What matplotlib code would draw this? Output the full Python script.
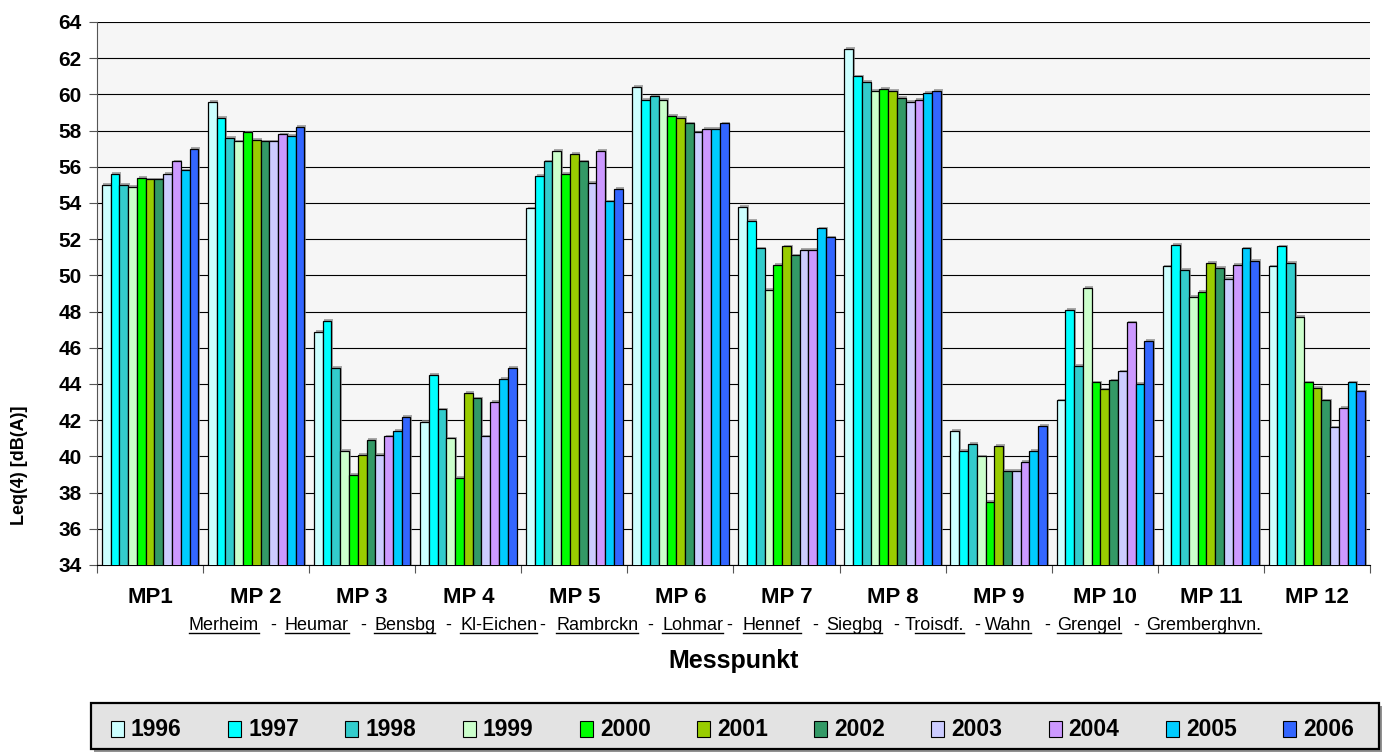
import matplotlib
matplotlib.use("Agg")
import matplotlib.pyplot as plt
import matplotlib.patheffects as pe
from matplotlib.lines import Line2D
from matplotlib.patches import Rectangle
import numpy as np

plt.rcParams['font.family'] = ['Liberation Sans', 'DejaVu Sans']

categories = ["MP1", "MP 2", "MP 3", "MP 4", "MP 5", "MP 6", "MP 7", "MP 8", "MP 9", "MP 10", "MP 11", "MP 12"]
places = ["Merheim", "Heumar", "Bensbg", "Kl-Eichen", "Rambrckn", "Lohmar", "Hennef", "Siegbg", "Troisdf.", "Wahn", "Grengel", "Gremberghvn."]
years = ["1996", "1997", "1998", "1999", "2000", "2001", "2002", "2003", "2004", "2005", "2006"]

v1996 = [55.0, 59.6, 46.9, 41.9, 53.7, 60.4, 53.8, 62.5, 41.4, 43.1, 50.5, 50.5]
v1997 = [55.6, 58.7, 47.5, 44.5, 55.5, 59.7, 53.0, 61.0, 40.3, 48.1, 51.7, 51.6]
v1998 = [55.0, 57.6, 44.9, 42.6, 56.3, 59.9, 51.5, 60.7, 40.7, 45.0, 50.3, 50.7]
v1999 = [54.9, 57.4, 40.3, 41.0, 56.9, 59.7, 49.2, 60.2, 40.0, 49.3, 48.8, 47.7]
v2000 = [55.4, 57.9, 39.0, 38.8, 55.6, 58.8, 50.6, 60.3, 37.5, 44.1, 49.1, 44.1]
v2001 = [55.3, 57.5, 40.1, 43.5, 56.7, 58.7, 51.6, 60.2, 40.6, 43.7, 50.7, 43.8]
v2002 = [55.3, 57.4, 40.9, 43.2, 56.3, 58.4, 51.1, 59.8, 39.2, 44.2, 50.4, 43.1]
v2003 = [55.6, 57.4, 40.1, 41.1, 55.1, 57.9, 51.4, 59.6, 39.2, 44.7, 49.8, 41.6]
v2004 = [56.3, 57.8, 41.1, 43.0, 56.9, 58.1, 51.4, 59.7, 39.7, 47.4, 50.6, 42.7]
v2005 = [55.8, 57.7, 41.4, 44.3, 54.1, 58.1, 52.6, 60.1, 40.3, 44.0, 51.5, 44.1]
v2006 = [57.0, 58.2, 42.2, 44.9, 54.8, 58.4, 52.1, 60.2, 41.7, 46.4, 50.8, 43.6]

series = [v1996, v1997, v1998, v1999, v2000, v2001, v2002, v2003, v2004, v2005, v2006]
colors = ["#CCFFFF", "#00FFFF", "#33CCCC", "#CCFFCC", "#00FF00", "#99CC00",
          "#339966", "#CCCCFF", "#CC99FF", "#00CCFF", "#3366FF"]

W, H = 1383, 753
fig = plt.figure(figsize=(W / 100, H / 100), dpi=100)
fig.patch.set_facecolor("white")
ax = fig.add_axes([97 / W, 1 - 565 / H, (1370 - 97) / W, (565 - 22) / H])
ax.set_facecolor("#F6F6F6")

n = len(series)
group_w = 0.91
bw = group_w / n
x = np.arange(len(categories))
shadow = [pe.SimplePatchShadow(offset=(1.2, 1.2), shadow_rgbFace="#888888", alpha=0.7), pe.Normal()]
for i, (vals, c) in enumerate(zip(series, colors)):
    offs = -group_w / 2 + bw * (i + 0.5)
    bars = ax.bar(x + offs, vals, width=bw, color=c, edgecolor="black", linewidth=0.9, zorder=3)
    for b in bars:
        b.set_path_effects(shadow)

ax.set_xlim(-0.5, len(categories) - 0.5)
ax.set_ylim(34, 64)
ax.set_yticks(np.arange(34, 65, 2))
ax.yaxis.grid(True, color="black", linewidth=0.8, zorder=0)
ax.set_axisbelow(True)
for s in ["top", "right"]:
    ax.spines[s].set_visible(False)
ax.spines["left"].set_color("#555555")
ax.spines["bottom"].set_color("black")
ax.tick_params(axis="y", length=6, width=0.8, color="#555555", labelsize=15, pad=5)
for lab in ax.get_yticklabels():
    lab.set_fontweight("bold")

ax.set_xticks(x)
ax.set_xticklabels(categories, fontsize=16, fontweight="bold")
ax.tick_params(axis="x", which="major", length=0, pad=16)
ax.set_xticks(np.arange(-0.5, len(categories), 1), minor=True)
ax.tick_params(axis="x", which="minor", length=6, width=0.8, color="#555555")

fig.text(20 / W, 1 - 465 / H, "Leq(4) [dB(A)]", rotation=90, ha="center", va="center",
         fontsize=13, fontweight="bold")
fig.text(734 / W, 1 - 661 / H, "Messpunkt", ha="center", va="center", fontsize=18, fontweight="bold")

# place name row
name_x = [189, 285, 374, 460, 556, 662, 743, 826, 905, 985, 1057, 1146]
dash_x = [270, 360, 445, 539, 647, 726, 812, 893, 974, 1044, 1133]
base_y = 1 - 630 / H
fs_names = 13
name_texts = []
for px, nm in zip(name_x, places):
    t = fig.text(px / W, base_y, nm, ha="left", va="baseline", fontsize=fs_names)
    name_texts.append(t)
for px in dash_x:
    fig.text(px / W, base_y, "-", ha="left", va="baseline", fontsize=fs_names)

fig.canvas.draw()
r = fig.canvas.get_renderer()
for t, nm in zip(name_texts, places):
    bb = t.get_window_extent(renderer=r)
    x0 = bb.x0
    if nm.startswith("T"):
        x0 = bb.x0 + (bb.x1 - bb.x0) * 0.17
    yb = H - 633
    fig.add_artist(Line2D([x0 / W, bb.x1 / W], [yb / H, yb / H], color="black", linewidth=1.0))

# legend box
frame = Rectangle((91 / W, 1 - 749 / H), (1379 - 91) / W, (749 - 703) / H, transform=fig.transFigure,
                  facecolor="#E3E3E3", edgecolor="black", linewidth=1.6, zorder=1)
frame.set_path_effects([pe.SimplePatchShadow(offset=(2, -2), shadow_rgbFace="#777777", alpha=0.8), pe.Normal()])
fig.add_artist(frame)
leg_y = 1 - 729 / H
for i, (yr, c) in enumerate(zip(years, colors)):
    px = 111 + i * 117.2
    fig.add_artist(Rectangle((px / W, leg_y - 8 / H), 13 / W, 16 / H, transform=fig.transFigure,
                             facecolor=c, edgecolor="black", linewidth=0.8, zorder=2))
    fig.text((px + 20) / W, leg_y, yr, ha="left", va="center", fontsize=16.5, fontweight="bold", zorder=3)

fig.savefig("out.png", dpi=100)
